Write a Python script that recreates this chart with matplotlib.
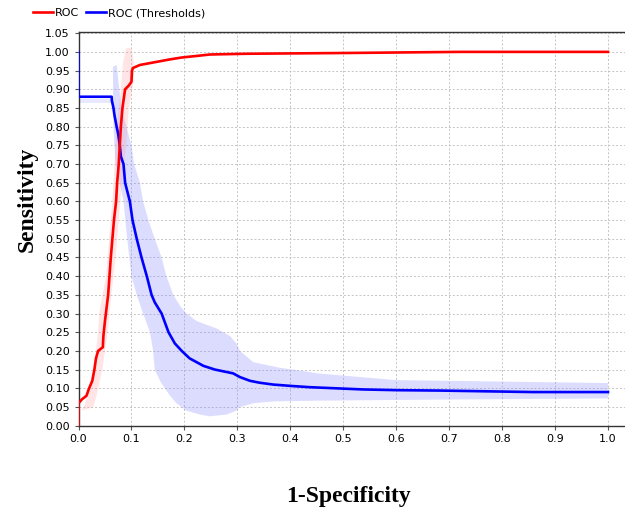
import numpy as np
import matplotlib
matplotlib.use("Agg")
import matplotlib.pyplot as plt
from matplotlib.ticker import MultipleLocator, FormatStrFormatter

# ROC curve (red)
roc_fpr = [0.0, 0.0, 0.006, 0.015, 0.020, 0.026, 0.030, 0.033, 0.037, 0.046, 0.047, 0.050,
           0.056, 0.061, 0.064, 0.067, 0.071, 0.073, 0.076, 0.078, 0.080, 0.083, 0.086, 0.088,
           0.095, 0.100, 0.101, 0.103, 0.116, 0.135, 0.154, 0.173, 0.195, 0.229, 0.248, 0.317,
           0.50, 0.72, 1.0]
roc_tpr = [0.0, 0.06, 0.07, 0.08, 0.10, 0.12, 0.15, 0.18, 0.20, 0.21, 0.24, 0.28,
           0.35, 0.45, 0.50, 0.55, 0.60, 0.65, 0.70, 0.75, 0.80, 0.85, 0.88, 0.90,
           0.91, 0.92, 0.95, 0.957, 0.965, 0.97, 0.975, 0.98, 0.985, 0.99, 0.993, 0.995,
           0.997, 1.0, 1.0]

# ROC (Thresholds) curve (blue)
thr_x = [0.0, 0.0, 0.0626, 0.063, 0.066, 0.068, 0.072, 0.075, 0.078, 0.080, 0.085, 0.088,
         0.097, 0.102, 0.110, 0.119, 0.129, 0.138, 0.144, 0.157, 0.170, 0.182, 0.195, 0.210,
         0.236, 0.258, 0.292, 0.305, 0.324, 0.342, 0.368, 0.405, 0.437, 0.487, 0.537, 0.603,
         0.682, 0.858, 1.0]
thr_y = [1.0, 0.88, 0.88, 0.87, 0.85, 0.83, 0.80, 0.78, 0.75, 0.72, 0.70, 0.65,
         0.60, 0.55, 0.50, 0.45, 0.40, 0.35, 0.33, 0.30, 0.25, 0.22, 0.20, 0.18,
         0.16, 0.15, 0.14, 0.13, 0.12, 0.115, 0.11, 0.106, 0.103, 0.100, 0.097, 0.095,
         0.094, 0.090, 0.090]

# confidence band of the blue curve (upper/right edge, then lower/left edge)
band_hi_x = [0.072, 0.081, 0.100, 0.105, 0.116, 0.122, 0.132, 0.144, 0.157, 0.166, 0.179, 0.192,
             0.204, 0.223, 0.261, 0.286, 0.298, 0.305, 0.330, 0.380, 0.430, 0.45, 0.6, 1.0]
band_hi_y = [0.965, 0.85, 0.75, 0.70, 0.65, 0.60, 0.55, 0.50, 0.45, 0.40, 0.35, 0.32,
             0.30, 0.28, 0.26, 0.24, 0.22, 0.20, 0.17, 0.155, 0.145, 0.14, 0.122, 0.114]
band_lo_x = [1.0, 0.7, 0.45, 0.368, 0.330, 0.305, 0.298, 0.280, 0.248, 0.229, 0.204, 0.185,
             0.173, 0.163, 0.154, 0.144, 0.141, 0.135, 0.122, 0.110, 0.100, 0.096, 0.092, 0.085,
             0.078, 0.070, 0.066, 0.065]
band_lo_y = [0.073, 0.07, 0.067, 0.065, 0.06, 0.05, 0.04, 0.03, 0.025, 0.03, 0.04, 0.06,
             0.08, 0.10, 0.12, 0.15, 0.20, 0.25, 0.30, 0.35, 0.40, 0.45, 0.50, 0.60,
             0.65, 0.70, 0.80, 0.96]
flat_band_x = [0.0, 0.062]
flat_band_lo = [0.862, 0.862]
flat_band_hi = [0.875, 0.875]

# confidence band of the red curve
pink_lo_x = [0.005, 0.010, 0.022, 0.028, 0.033, 0.037, 0.039, 0.052, 0.058, 0.064, 0.068, 0.072,
             0.080, 0.084, 0.090]
pink_lo_y = [0.04, 0.05, 0.10, 0.15, 0.20, 0.25, 0.30, 0.40, 0.50, 0.60, 0.70, 0.80,
             0.90, 0.97, 1.01]
pink_hi_x = [0.100, 0.105, 0.104, 0.095, 0.090, 0.082, 0.076, 0.070, 0.062, 0.055, 0.045, 0.034, 0.028]
pink_hi_y = [1.01, 0.97, 0.92, 0.85, 0.75, 0.65, 0.55, 0.45, 0.35, 0.25, 0.15, 0.08, 0.05]

W, H = 625, 519
fig = plt.figure(figsize=(W / 100, H / 100), dpi=100)
ax = fig.add_axes([78.5 / W, 1 - 425.7 / H, 1 - 78.5 / W, (425.7 - 31.7) / H])

ax.fill(band_hi_x + band_lo_x, band_hi_y + band_lo_y, color=(0.55, 0.55, 1.0), alpha=0.3, lw=0)
ax.fill_between(flat_band_x, flat_band_lo, flat_band_hi, color=(0.55, 0.55, 1.0), alpha=0.2, lw=0)
ax.fill(pink_lo_x + pink_hi_x, pink_lo_y + pink_hi_y, color=(1.0, 0.6, 0.6), alpha=0.25, lw=0)

ax.plot(roc_fpr, roc_tpr, color='#ff0000', lw=1.9, label='ROC', zorder=4)
ax.plot(thr_x, thr_y, color='#0000ff', lw=1.9, label='ROC (Thresholds)', zorder=3)

ax.set_xlim(0, (W - 78.5) / (608 - 78.5))
ax.set_ylim(0, 1.054)
ax.xaxis.set_major_locator(MultipleLocator(0.1))
ax.yaxis.set_major_locator(MultipleLocator(0.05))
ax.xaxis.set_major_formatter(FormatStrFormatter('%.1f'))
ax.yaxis.set_major_formatter(FormatStrFormatter('%.2f'))
ax.set_xticks(np.arange(0, 1.01, 0.1))
ax.tick_params(labelsize=8, length=3.2, width=0.8, color='#555555', pad=3)
ax.grid(True, color='#c4c4c4', lw=0.7, ls=(0, (2, 2)))
ax.set_axisbelow(True)
for s in ['left', 'bottom', 'top']:
    ax.spines[s].set_color('#333333')
    ax.spines[s].set_linewidth(1.0)
ax.spines['right'].set_visible(False)

fig.text(33 / W, 1 - 199 / H, 'Sensitivity', rotation=90, rotation_mode='anchor',
         ha='center', va='baseline', fontsize=17, fontweight='bold', family='Liberation Serif')
fig.text(348.5 / W, 1 - 502 / H, '1-Specificity', ha='center', va='baseline',
         fontsize=17, fontweight='bold', family='Liberation Serif')

fig.legend(loc='center left', bbox_to_anchor=(33 / W, 1 - 13.3 / H), ncol=2, frameon=False,
           fontsize=8, borderpad=0, borderaxespad=0, handlelength=1.8, handletextpad=0.2,
           columnspacing=0.6)

fig.savefig('out.png', dpi=100)
